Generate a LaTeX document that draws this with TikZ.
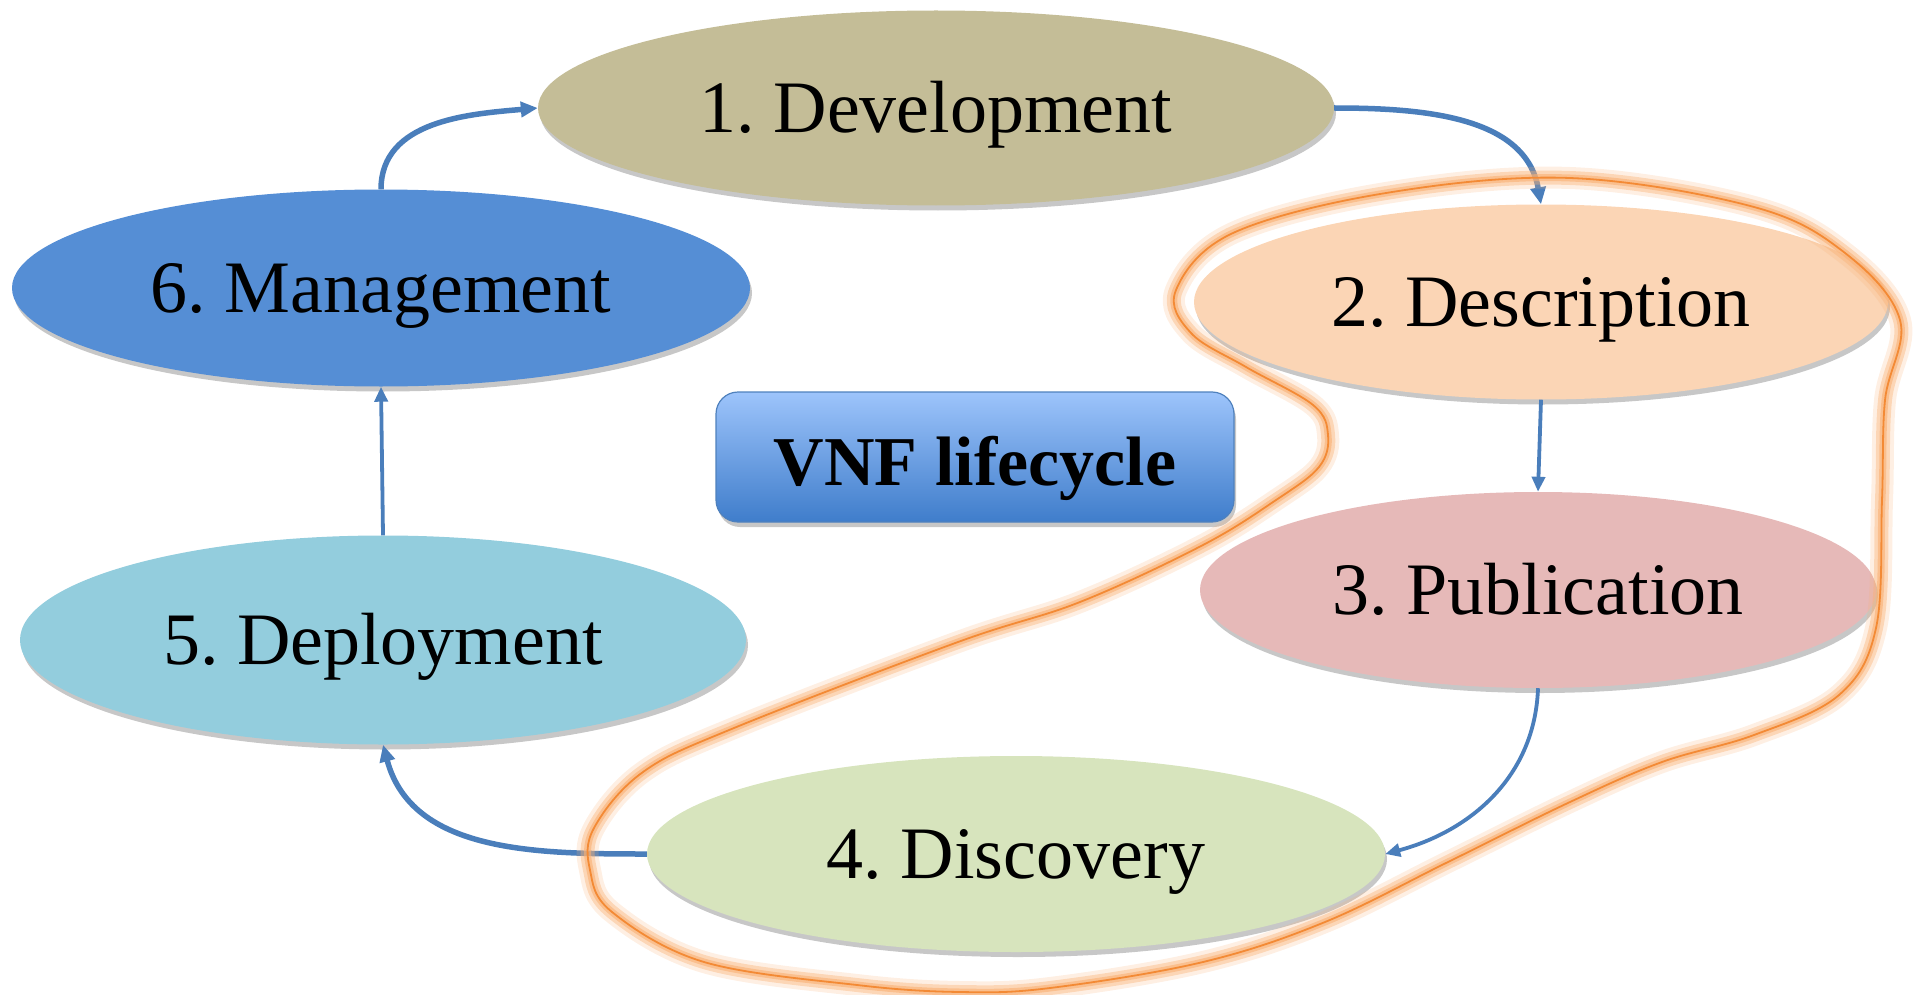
\documentclass[tikz,border=0pt]{standalone}
\usepackage{fontspec}
\setmainfont{Liberation Serif}
\usetikzlibrary{shapes.geometric,arrows.meta,shadows}
\definecolor{cDev}{HTML}{C4BD97}
\definecolor{cMan}{HTML}{558ED5}
\definecolor{cDes}{HTML}{FBD5B5}
\definecolor{cPub}{HTML}{E6B9B8}
\definecolor{cDep}{HTML}{93CDDD}
\definecolor{cDis}{HTML}{D7E4BD}
\definecolor{cArr}{HTML}{4A7EBB}
\definecolor{cBoxTop}{HTML}{9DC4FB}
\definecolor{cBoxBot}{HTML}{3F7DCB}
\definecolor{cBoxLine}{HTML}{4F81BD}
\definecolor{cGlow}{HTML}{F9B073}
\definecolor{cLoop}{HTML}{F38A35}
\begin{document}
\frenchspacing
\begin{tikzpicture}[x=1pt,y=1pt,
  stage/.style={ellipse, inner sep=0pt, font=\frenchspacing\fontsize{74}{80}\selectfont,
    text height=49pt, text depth=0pt,
    drop shadow={shadow xshift=2pt, shadow yshift=-5pt, opacity=0.22, fill=black}},
  vnfbox/.style={rectangle, rounded corners=22pt, draw=cBoxLine, line width=1.2pt,
    top color=cBoxTop, bottom color=cBoxBot, inner sep=0pt,
    minimum width=518pt, minimum height=130pt,
    font=\bfseries\fontsize{70}{75}\selectfont, text height=56pt, text depth=0pt,
    drop shadow={shadow xshift=2pt, shadow yshift=-5pt, opacity=0.22, fill=black}},
  arrT/.style={draw=cArr, line width=5.5pt, -{Triangle[length=17pt, width=15pt]}},
  arrt/.style={draw=cArr, line width=3.8pt, -{Triangle[length=15pt, width=13pt]}},
  glow/.style={draw=cGlow, line cap=round, line join=round},
  loopline/.style={draw=cLoop, line width=1.8pt}
]
\useasboundingbox (0,0) rectangle (1918,-995);

\node[stage, fill=cDev, minimum width=796pt, minimum height=195pt] (dev) at (936,-108) {1. Development};
\node[stage, fill=cMan, minimum width=738pt, minimum height=197pt] (man) at (381,-288) {6. Management};
\node[stage, fill=cDes, minimum width=694pt, minimum height=195pt] (des) at (1541,-302) {2. Description};
\node[stage, fill=cPub, minimum width=676pt, minimum height=196pt] (pub) at (1538,-590) {3. Publication};
\node[stage, fill=cDep, minimum width=726pt, minimum height=209pt] (dep) at (383,-640) {5. Deployment};
\node[stage, fill=cDis, minimum width=738pt, minimum height=196pt] (dis) at (1016,-854) {4. Discovery};

\node[vnfbox] (vnf) at (975,-457) {VNF lifecycle};

\draw[arrT] (man.north) to[out=90,in=185] (dev.west);
\draw[arrT] (dev.east) to[out=0,in=100] (des.north);
\draw[arrt] (des.south) -- (pub.north);
\draw[arrt] (pub.south) to[out=-92,in=15] (dis.east);
\draw[arrT] (dis.west) to[out=180,in=-75] (dep.south);
\draw[arrt] (dep.north) -- (man.south);

\def\looppath{plot[smooth cycle, tension=0.6] coordinates {
 (1570,-178) (1386,-193) (1233,-233) (1176,-290) (1191,-333) (1246,-367)
 (1313,-405) (1328,-435) (1319,-467) (1276,-500) (1203,-545) (1080,-602)
 (958,-642) (734,-728) (643,-772) (594,-828) (590,-870) (612,-912)
 (704,-962) (857,-985) (960,-992) (1050,-988) (1203,-962) (1325,-922)
 (1448,-862) (1570,-802) (1662,-762) (1754,-735) (1839,-695) (1876,-628)
 (1882,-500) (1885,-400) (1900,-320) (1845,-253) (1754,-207)}}
\draw[glow, line width=22pt, opacity=0.2] \looppath;
\draw[glow, line width=14pt, opacity=0.4] \looppath;
\draw[glow, line width=7pt, opacity=0.6] \looppath;
\draw[loopline] \looppath;
\end{tikzpicture}
\end{document}
